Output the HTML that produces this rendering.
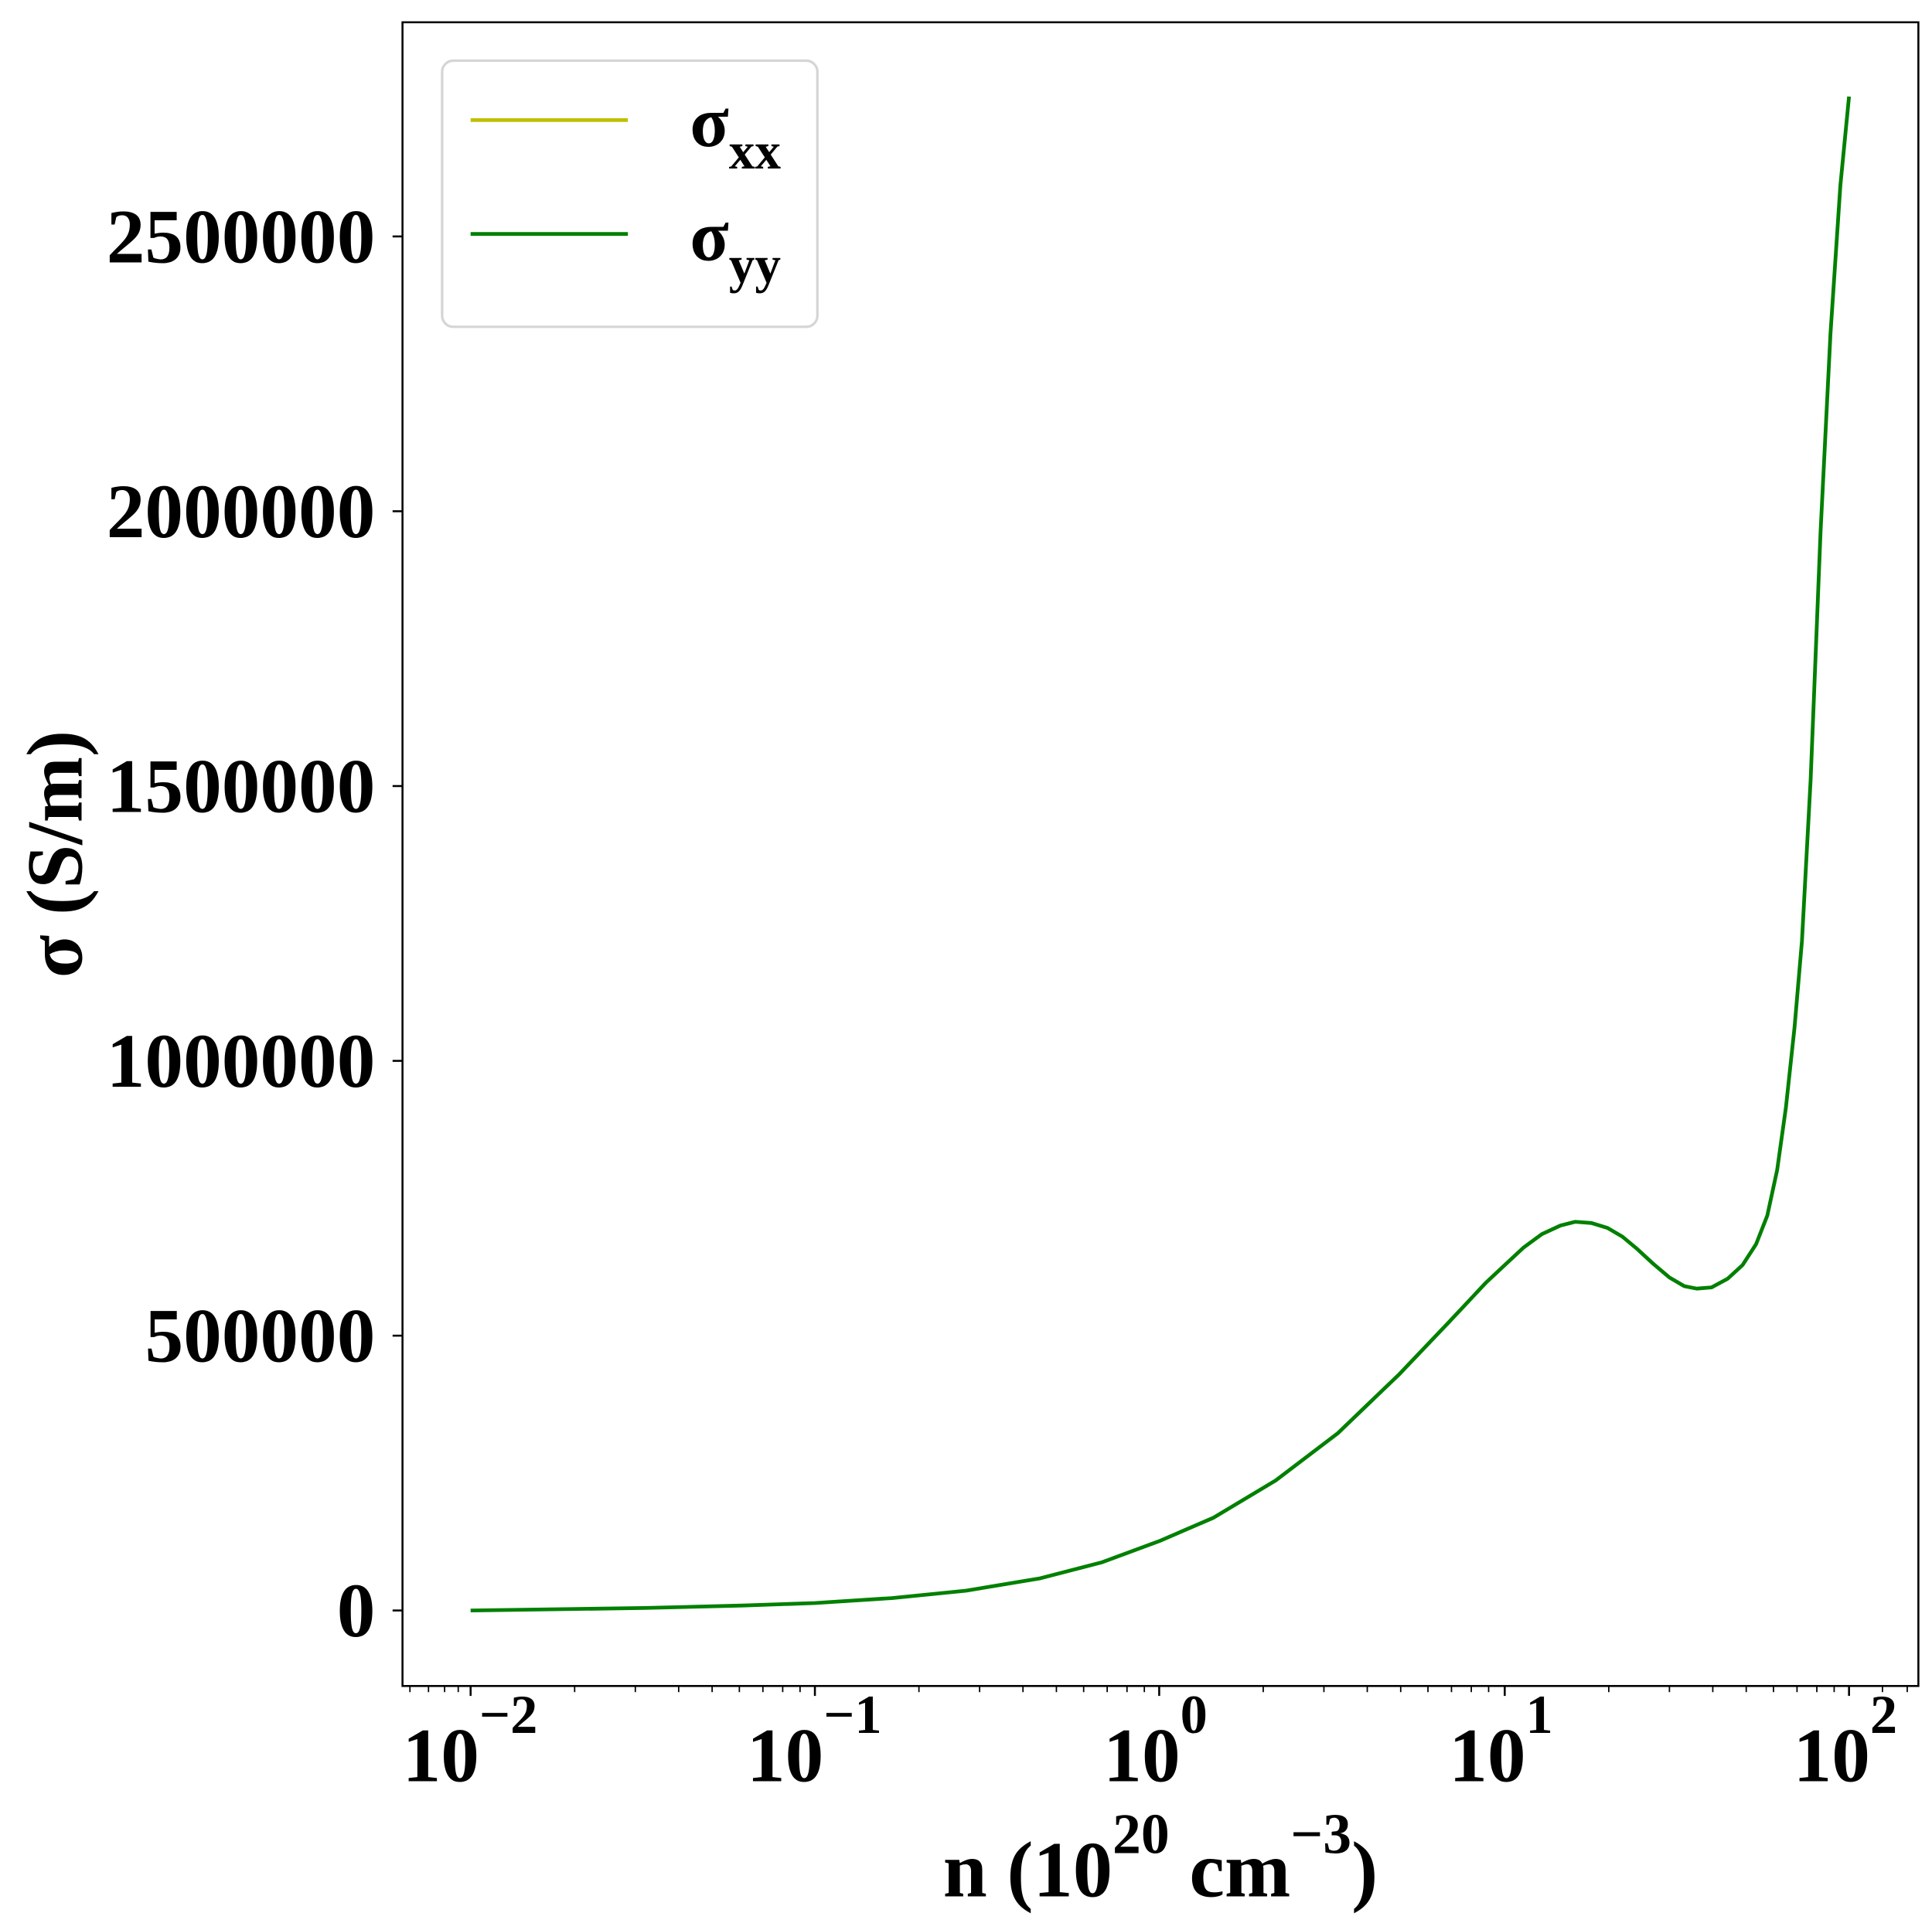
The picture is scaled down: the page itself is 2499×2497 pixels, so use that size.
<!DOCTYPE html>
<html><head><style>html,body{margin:0;padding:0;background:#fff}</style></head><body>
<svg width="2499" height="2492" viewBox="0 0 1560 1556" preserveAspectRatio="none" xmlns="http://www.w3.org/2000/svg" style="font-family:'Liberation Serif',serif;font-weight:bold">
<rect width="1560" height="1556" fill="#fff"/>
<path d="M380,1301 L450,1300 L520,1299 L600,1297 L658,1295 L720,1291 L780,1285 L840,1275 L890,1262 L936,1245 L980,1226 L1030,1196 L1080,1158 L1130,1110 L1170,1068 L1200,1036 L1215,1022 L1230,1008 L1245,997 L1260,990 L1272,987 L1285,988 L1298,992 L1310,999 L1322,1009 L1335,1021 L1348,1032 L1360,1039 L1370,1041 L1382,1040 L1395,1033 L1407,1022 L1418,1005 L1427,982 L1435,945 L1442,895 L1449,830 L1455,760 L1462,630 L1470,430 L1478,270 L1486,150 L1493,78" fill="none" stroke="#008000" stroke-width="3" stroke-linejoin="round"/>
<rect x="325" y="18" width="1224" height="1344" fill="none" stroke="#000" stroke-width="1.6"/>
<g stroke="#000" stroke-width="1.6">
<line x1="317" y1="1301" x2="325" y2="1301"/><line x1="317" y1="1079" x2="325" y2="1079"/><line x1="317" y1="857" x2="325" y2="857"/><line x1="317" y1="635" x2="325" y2="635"/><line x1="317" y1="413" x2="325" y2="413"/><line x1="317" y1="191" x2="325" y2="191"/>
<line x1="380" y1="1362" x2="380" y2="1370"/><line x1="658" y1="1362" x2="658" y2="1370"/><line x1="936" y1="1362" x2="936" y2="1370"/><line x1="1215" y1="1362" x2="1215" y2="1370"/><line x1="1493" y1="1362" x2="1493" y2="1370"/>
</g>
<g stroke="#000" stroke-width="1.1">
<path d="M331,1362v5M346,1362v5M359,1362v5M370,1362v5
M464,1362v5M513,1362v5M548,1362v5M575,1362v5M597,1362v5M616,1362v5M632,1362v5M646,1362v5
M742,1362v5M791,1362v5M826,1362v5M853,1362v5M875,1362v5M894,1362v5M910,1362v5M924,1362v5
M1020,1362v5M1069,1362v5M1104,1362v5M1131,1362v5M1153,1362v5M1172,1362v5M1188,1362v5M1202,1362v5
M1299,1362v5M1348,1362v5M1383,1362v5M1410,1362v5M1432,1362v5M1451,1362v5M1467,1362v5M1481,1362v5
M1520,1362v5M1540,1362v5"/>
</g>
<g font-size="62" text-anchor="end">
<text x="303" y="1322">0</text><text x="303" y="1100">500000</text><text x="303" y="878">1000000</text><text x="303" y="656">1500000</text><text x="303" y="434">2000000</text><text x="303" y="212">2500000</text>
</g>
<g font-size="62">
<text x="325" y="1439">10<tspan dy="-39" font-size="44">−2</tspan></text>
<text x="603" y="1439">10<tspan dy="-39" font-size="44">−1</tspan></text>
<text x="891" y="1439">10<tspan dy="-39" font-size="44">0</tspan></text>
<text x="1170" y="1439">10<tspan dy="-39" font-size="44">1</tspan></text>
<text x="1448" y="1439">10<tspan dy="-39" font-size="44">2</tspan></text>
</g>
<text x="937" y="1532" font-size="64" text-anchor="middle">n (10<tspan dy="-35" font-size="46">20</tspan><tspan dy="35"> cm</tspan><tspan dy="-35" font-size="46">−3</tspan><tspan dy="35">)</tspan></text>
<text transform="translate(66,690) rotate(-90)" font-size="64" text-anchor="middle">σ (S/m)</text>
<rect x="357" y="49" width="303" height="215" rx="9" fill="#fff" stroke="#d5d5d5" stroke-width="2"/>
<line x1="380" y1="97" x2="507" y2="97" stroke="#bfbf00" stroke-width="3"/>
<line x1="380" y1="189" x2="507" y2="189" stroke="#008000" stroke-width="3"/>
<text x="557" y="118" font-size="58">σ<tspan dy="18" font-size="42">xx</tspan></text>
<text x="557" y="210" font-size="58">σ<tspan dy="18" font-size="42">yy</tspan></text>
</svg>
</body></html>
